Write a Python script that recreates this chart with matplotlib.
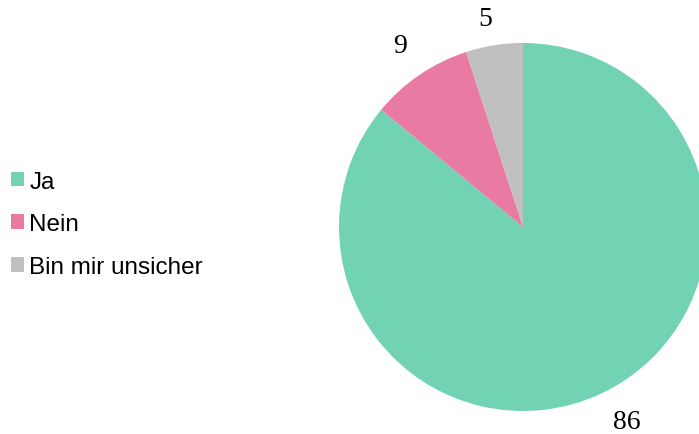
import matplotlib.pyplot as plt
from matplotlib.patches import Patch

# survey answers (percent)
categories = ['Ja', 'Nein', 'Bin mir unsicher']
values = [86, 9, 5]
colors = ['#72d3b4', '#e87aa4', '#c0c0c0']

fig = plt.figure(figsize=(6.99, 4.35), dpi=100)

# pie axes: centre ~ (523, 228) px, radius ~ 184 px
cx, cy, r = 523, 435 - 228, 184
ax = fig.add_axes([(cx - r) / 699, (cy - r) / 435, 2 * r / 699, 2 * r / 435])

wedges, texts = ax.pie(values, colors=colors, startangle=90, counterclock=False,
                       labels=[str(v) for v in values], labeldistance=1.19,
                       radius=1, textprops={'family': 'Liberation Serif', 'fontsize': 20})
for t in texts:
    t.set_horizontalalignment('center')
    t.set_verticalalignment('center')
# nudge the big label a bit right, small one down, like the original
x, y = texts[0].get_position()
texts[0].set_position((x + 0.06, y + 0.02))
x, y = texts[2].get_position()
texts[2].set_position((x - 0.02, y - 0.04))
ax.set_xlim(-1, 1)
ax.set_ylim(-1, 1)
ax.axis('off')

handles = [Patch(facecolor=c, edgecolor='none') for c in colors]
fig.legend(handles, categories, loc='center left', bbox_to_anchor=(0.002, 0.482),
           frameon=False, prop={'family': 'Liberation Sans', 'size': 17.5},
           handlelength=0.55, handleheight=0.55, handletextpad=0.2,
           labelspacing=0.85, borderaxespad=0)

fig.savefig('out.png', dpi=100)
